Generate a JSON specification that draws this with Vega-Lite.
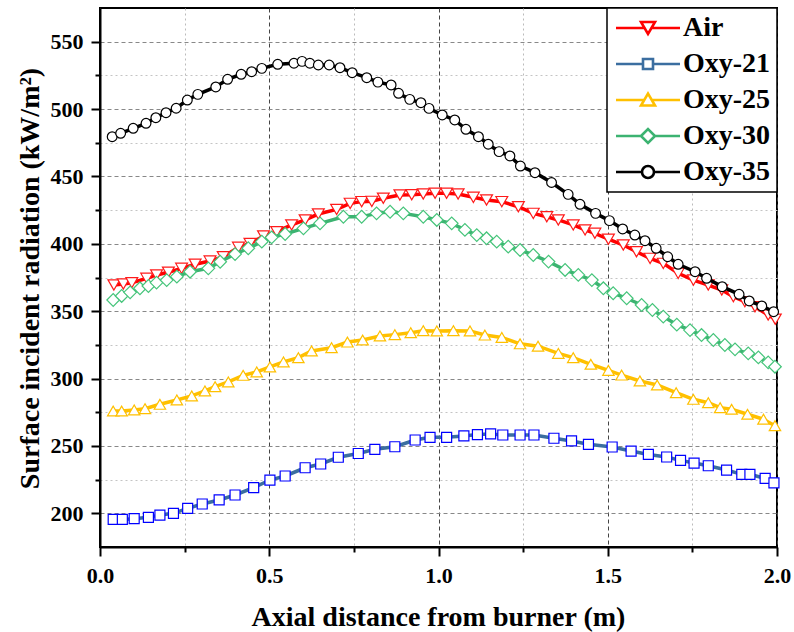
{
"$schema": "https://vega.github.io/schema/vega-lite/v6.json",
"width": 677, "height": 539,
"autosize": {"type": "none"},
"padding": {"left": 100, "top": 8, "right": 17, "bottom": 85},
"background": "white",
"config": {
 "view": {"stroke": "black", "strokeWidth": 2},
 "axis": {"labelFont": "Liberation Serif", "labelFontSize": 22, "labelFontWeight": "bold", "labelColor": "black", "titleFont": "Liberation Serif", "titleFontSize": 28, "titleFontWeight": "bold", "titleColor": "black", "domainColor": "black", "domainWidth": 2, "tickColor": "black", "tickWidth": 2, "labelPadding": 8, "gridWidth": 1, "labelFlush": false},
 "legend": {"title": null, "orient": "top-right", "offset": 0, "padding": 6, "fillColor": "white", "strokeColor": "black", "strokeWidth": 1.5, "symbolSize": 400, "symbolOffset": 21, "symbolStrokeWidth": 2.6, "symbolOpacity": 1, "labelFont": "Liberation Serif", "labelFontSize": 28, "labelFontWeight": "bold", "labelColor": "black", "labelOffset": 21, "labelLimit": 300, "rowPadding": 8}
},
"data": {"values": [
{"series":"Air","x":0.041,"y":369.4},{"series":"Air","x":0.069,"y":370.2},{"series":"Air","x":0.094,"y":371.1},{"series":"Air","x":0.138,"y":374.4},{"series":"Air","x":0.167,"y":376.9},{"series":"Air","x":0.202,"y":378.9},{"series":"Air","x":0.241,"y":381.8},{"series":"Air","x":0.281,"y":384.8},{"series":"Air","x":0.325,"y":387.2},{"series":"Air","x":0.364,"y":390.4},{"series":"Air","x":0.409,"y":397.4},{"series":"Air","x":0.443,"y":400.3},{"series":"Air","x":0.483,"y":405.8},{"series":"Air","x":0.522,"y":409},{"series":"Air","x":0.566,"y":414},{"series":"Air","x":0.606,"y":417.7},{"series":"Air","x":0.645,"y":422.1},{"series":"Air","x":0.699,"y":425.5},{"series":"Air","x":0.739,"y":430},{"series":"Air","x":0.773,"y":431.3},{"series":"Air","x":0.803,"y":431.5},{"series":"Air","x":0.837,"y":433.8},{"series":"Air","x":0.886,"y":436.2},{"series":"Air","x":0.921,"y":436.4},{"series":"Air","x":0.955,"y":437},{"series":"Air","x":0.99,"y":437.5},{"series":"Air","x":1.024,"y":437.5},{"series":"Air","x":1.058,"y":437},{"series":"Air","x":1.103,"y":434.5},{"series":"Air","x":1.142,"y":432.5},{"series":"Air","x":1.187,"y":431.3},{"series":"Air","x":1.236,"y":427.5},{"series":"Air","x":1.28,"y":422.6},{"series":"Air","x":1.32,"y":420.1},{"series":"Air","x":1.354,"y":417.7},{"series":"Air","x":1.398,"y":414},{"series":"Air","x":1.433,"y":410.3},{"series":"Air","x":1.462,"y":407.8},{"series":"Air","x":1.502,"y":403.4},{"series":"Air","x":1.546,"y":399.1},{"series":"Air","x":1.585,"y":394.1},{"series":"Air","x":1.625,"y":389.2},{"series":"Air","x":1.664,"y":385.5},{"series":"Air","x":1.708,"y":378.1},{"series":"Air","x":1.753,"y":373.1},{"series":"Air","x":1.797,"y":369.4},{"series":"Air","x":1.837,"y":365.7},{"series":"Air","x":1.871,"y":360.8},{"series":"Air","x":1.905,"y":357.1},{"series":"Air","x":1.935,"y":353.3},{"series":"Air","x":1.974,"y":347.2},{"series":"Air","x":1.995,"y":344},
{"series":"Oxy-21","x":0.039,"y":195.5},{"series":"Oxy-21","x":0.066,"y":195.5},{"series":"Oxy-21","x":0.101,"y":196},{"series":"Oxy-21","x":0.143,"y":197},{"series":"Oxy-21","x":0.177,"y":198.7},{"series":"Oxy-21","x":0.217,"y":200},{"series":"Oxy-21","x":0.259,"y":203.7},{"series":"Oxy-21","x":0.302,"y":206.9},{"series":"Oxy-21","x":0.352,"y":209.9},{"series":"Oxy-21","x":0.399,"y":213.6},{"series":"Oxy-21","x":0.454,"y":219},{"series":"Oxy-21","x":0.502,"y":224.7},{"series":"Oxy-21","x":0.547,"y":227.7},{"series":"Oxy-21","x":0.606,"y":233.8},{"series":"Oxy-21","x":0.652,"y":236.6},{"series":"Oxy-21","x":0.704,"y":241.6},{"series":"Oxy-21","x":0.763,"y":244.4},{"series":"Oxy-21","x":0.812,"y":247.5},{"series":"Oxy-21","x":0.871,"y":249.4},{"series":"Oxy-21","x":0.931,"y":254.4},{"series":"Oxy-21","x":0.975,"y":256.4},{"series":"Oxy-21","x":1.024,"y":256.4},{"series":"Oxy-21","x":1.075,"y":257.4},{"series":"Oxy-21","x":1.115,"y":258.4},{"series":"Oxy-21","x":1.154,"y":258.9},{"series":"Oxy-21","x":1.19,"y":258.1},{"series":"Oxy-21","x":1.241,"y":258.1},{"series":"Oxy-21","x":1.282,"y":258.1},{"series":"Oxy-21","x":1.341,"y":255.7},{"series":"Oxy-21","x":1.393,"y":253.7},{"series":"Oxy-21","x":1.443,"y":251.2},{"series":"Oxy-21","x":1.513,"y":249.2},{"series":"Oxy-21","x":1.569,"y":246.2},{"series":"Oxy-21","x":1.62,"y":243.7},{"series":"Oxy-21","x":1.674,"y":241.8},{"series":"Oxy-21","x":1.715,"y":239.3},{"series":"Oxy-21","x":1.755,"y":237.3},{"series":"Oxy-21","x":1.797,"y":235.3},{"series":"Oxy-21","x":1.851,"y":232.1},{"series":"Oxy-21","x":1.896,"y":228.9},{"series":"Oxy-21","x":1.92,"y":228.9},{"series":"Oxy-21","x":1.965,"y":225.9},{"series":"Oxy-21","x":1.991,"y":222.6},
{"series":"Oxy-25","x":0.039,"y":275.9},{"series":"Oxy-25","x":0.064,"y":275.9},{"series":"Oxy-25","x":0.101,"y":276.7},{"series":"Oxy-25","x":0.133,"y":277.6},{"series":"Oxy-25","x":0.177,"y":280.9},{"series":"Oxy-25","x":0.227,"y":284.1},{"series":"Oxy-25","x":0.271,"y":287.1},{"series":"Oxy-25","x":0.31,"y":290.8},{"series":"Oxy-25","x":0.34,"y":294},{"series":"Oxy-25","x":0.379,"y":297.5},{"series":"Oxy-25","x":0.423,"y":302.4},{"series":"Oxy-25","x":0.463,"y":304.9},{"series":"Oxy-25","x":0.502,"y":308.6},{"series":"Oxy-25","x":0.542,"y":312.3},{"series":"Oxy-25","x":0.586,"y":315.5},{"series":"Oxy-25","x":0.625,"y":320.5},{"series":"Oxy-25","x":0.684,"y":322.9},{"series":"Oxy-25","x":0.731,"y":327.1},{"series":"Oxy-25","x":0.776,"y":328.6},{"series":"Oxy-25","x":0.827,"y":331.6},{"series":"Oxy-25","x":0.871,"y":332.6},{"series":"Oxy-25","x":0.918,"y":334},{"series":"Oxy-25","x":0.955,"y":335.5},{"series":"Oxy-25","x":0.995,"y":335.3},{"series":"Oxy-25","x":1.044,"y":335.5},{"series":"Oxy-25","x":1.093,"y":335.3},{"series":"Oxy-25","x":1.137,"y":332.3},{"series":"Oxy-25","x":1.187,"y":330.5},{"series":"Oxy-25","x":1.241,"y":325.8},{"series":"Oxy-25","x":1.294,"y":324},{"series":"Oxy-25","x":1.354,"y":318.7},{"series":"Oxy-25","x":1.398,"y":315.5},{"series":"Oxy-25","x":1.45,"y":310.6},{"series":"Oxy-25","x":1.502,"y":306.1},{"series":"Oxy-25","x":1.541,"y":302.6},{"series":"Oxy-25","x":1.595,"y":298.2},{"series":"Oxy-25","x":1.646,"y":295.2},{"series":"Oxy-25","x":1.702,"y":289.5},{"series":"Oxy-25","x":1.753,"y":284.6},{"series":"Oxy-25","x":1.797,"y":282.1},{"series":"Oxy-25","x":1.832,"y":278.4},{"series":"Oxy-25","x":1.866,"y":277.2},{"series":"Oxy-25","x":1.913,"y":273.5},{"series":"Oxy-25","x":1.96,"y":269.8},{"series":"Oxy-25","x":1.994,"y":265},
{"series":"Oxy-30","x":0.039,"y":358.3},{"series":"Oxy-30","x":0.064,"y":361.3},{"series":"Oxy-30","x":0.089,"y":364},{"series":"Oxy-30","x":0.118,"y":367},{"series":"Oxy-30","x":0.143,"y":368.7},{"series":"Oxy-30","x":0.167,"y":371.2},{"series":"Oxy-30","x":0.197,"y":373.1},{"series":"Oxy-30","x":0.227,"y":375.6},{"series":"Oxy-30","x":0.266,"y":379.3},{"series":"Oxy-30","x":0.32,"y":381.8},{"series":"Oxy-30","x":0.355,"y":386.7},{"series":"Oxy-30","x":0.399,"y":392.4},{"series":"Oxy-30","x":0.438,"y":396.7},{"series":"Oxy-30","x":0.478,"y":401.6},{"series":"Oxy-30","x":0.507,"y":404.8},{"series":"Oxy-30","x":0.547,"y":407.3},{"series":"Oxy-30","x":0.601,"y":411.5},{"series":"Oxy-30","x":0.65,"y":415.2},{"series":"Oxy-30","x":0.719,"y":420.1},{"series":"Oxy-30","x":0.773,"y":420.1},{"series":"Oxy-30","x":0.817,"y":422.6},{"series":"Oxy-30","x":0.857,"y":423.8},{"series":"Oxy-30","x":0.896,"y":422.6},{"series":"Oxy-30","x":0.955,"y":420.1},{"series":"Oxy-30","x":0.995,"y":417.7},{"series":"Oxy-30","x":1.039,"y":415.2},{"series":"Oxy-30","x":1.078,"y":410.3},{"series":"Oxy-30","x":1.113,"y":406.5},{"series":"Oxy-30","x":1.142,"y":404.1},{"series":"Oxy-30","x":1.172,"y":401.6},{"series":"Oxy-30","x":1.206,"y":397.9},{"series":"Oxy-30","x":1.241,"y":395.4},{"series":"Oxy-30","x":1.28,"y":391.7},{"series":"Oxy-30","x":1.325,"y":386.8},{"series":"Oxy-30","x":1.374,"y":380.6},{"series":"Oxy-30","x":1.413,"y":376.9},{"series":"Oxy-30","x":1.453,"y":373.1},{"series":"Oxy-30","x":1.487,"y":367},{"series":"Oxy-30","x":1.516,"y":363.3},{"series":"Oxy-30","x":1.556,"y":359.6},{"series":"Oxy-30","x":1.6,"y":354.6},{"series":"Oxy-30","x":1.632,"y":350.9},{"series":"Oxy-30","x":1.664,"y":346},{"series":"Oxy-30","x":1.704,"y":340},{"series":"Oxy-30","x":1.743,"y":336},{"series":"Oxy-30","x":1.777,"y":332.3},{"series":"Oxy-30","x":1.812,"y":328.6},{"series":"Oxy-30","x":1.846,"y":324.9},{"series":"Oxy-30","x":1.876,"y":321.7},{"series":"Oxy-30","x":1.915,"y":318.7},{"series":"Oxy-30","x":1.945,"y":315.7},{"series":"Oxy-30","x":1.974,"y":312},{"series":"Oxy-30","x":1.994,"y":308.8},
{"series":"Oxy-35","x":0.036,"y":479.5},{"series":"Oxy-35","x":0.061,"y":482},{"series":"Oxy-35","x":0.098,"y":485.7},{"series":"Oxy-35","x":0.136,"y":489.4},{"series":"Oxy-35","x":0.165,"y":493.6},{"series":"Oxy-35","x":0.195,"y":497.3},{"series":"Oxy-35","x":0.225,"y":500.6},{"series":"Oxy-35","x":0.258,"y":506.7},{"series":"Oxy-35","x":0.289,"y":510.9},{"series":"Oxy-35","x":0.342,"y":516.4},{"series":"Oxy-35","x":0.377,"y":522.1},{"series":"Oxy-35","x":0.417,"y":525.8},{"series":"Oxy-35","x":0.448,"y":527.7},{"series":"Oxy-35","x":0.478,"y":530.2},{"series":"Oxy-35","x":0.525,"y":533.2},{"series":"Oxy-35","x":0.573,"y":534},{"series":"Oxy-35","x":0.597,"y":535.4},{"series":"Oxy-35","x":0.62,"y":534},{"series":"Oxy-35","x":0.645,"y":532.7},{"series":"Oxy-35","x":0.677,"y":532.7},{"series":"Oxy-35","x":0.709,"y":530.7},{"series":"Oxy-35","x":0.745,"y":527},{"series":"Oxy-35","x":0.788,"y":523.3},{"series":"Oxy-35","x":0.821,"y":520},{"series":"Oxy-35","x":0.86,"y":517.9},{"series":"Oxy-35","x":0.882,"y":511.7},{"series":"Oxy-35","x":0.915,"y":507.2},{"series":"Oxy-35","x":0.948,"y":504.7},{"series":"Oxy-35","x":0.972,"y":500.5},{"series":"Oxy-35","x":1.011,"y":495.6},{"series":"Oxy-35","x":1.048,"y":491.9},{"series":"Oxy-35","x":1.081,"y":485},{"series":"Oxy-35","x":1.118,"y":479.5},{"series":"Oxy-35","x":1.147,"y":473.9},{"series":"Oxy-35","x":1.179,"y":468.4},{"series":"Oxy-35","x":1.211,"y":465.2},{"series":"Oxy-35","x":1.242,"y":457.7},{"series":"Oxy-35","x":1.285,"y":452.8},{"series":"Oxy-35","x":1.334,"y":445.5},{"series":"Oxy-35","x":1.383,"y":436.7},{"series":"Oxy-35","x":1.418,"y":429.3},{"series":"Oxy-35","x":1.464,"y":422.6},{"series":"Oxy-35","x":1.505,"y":417.2},{"series":"Oxy-35","x":1.544,"y":411},{"series":"Oxy-35","x":1.58,"y":406.5},{"series":"Oxy-35","x":1.61,"y":402.3},{"series":"Oxy-35","x":1.643,"y":396.7},{"series":"Oxy-35","x":1.677,"y":390.4},{"series":"Oxy-35","x":1.708,"y":384.8},{"series":"Oxy-35","x":1.758,"y":379.3},{"series":"Oxy-35","x":1.792,"y":374.4},{"series":"Oxy-35","x":1.838,"y":368.2},{"series":"Oxy-35","x":1.888,"y":362.5},{"series":"Oxy-35","x":1.918,"y":357.6},{"series":"Oxy-35","x":1.955,"y":353.9},{"series":"Oxy-35","x":1.99,"y":349.6}
]},
"encoding": {
 "x": {"field": "x", "type": "quantitative", "scale": {"domain": [0, 2], "nice": false, "zero": false},
  "axis": {"title": "Axial distance from burner (m)", "values": [0,0.25,0.5,0.75,1,1.25,1.5,1.75,2],
   "labelExpr": "datum.value % 0.5 === 0 ? format(datum.value, '.1f') : ''",
   "grid": true,
   "gridColor": {"condition": {"test": "datum.value % 0.5 === 0", "value": "#444444"}, "value": "#bbbbbb"},
   "gridDash": {"condition": {"test": "datum.value % 0.5 === 0", "value": [4, 3]}, "value": [2, 3]},
   "tickSize": {"condition": {"test": "datum.value % 0.5 === 0", "value": 9}, "value": 5},
   "labelPadding": 9,
   "titleX": 338, "titleY": 78, "titleBaseline": "alphabetic", "titleAnchor": "middle", "titleAlign": "center"}},
 "y": {"field": "y", "type": "quantitative", "scale": {"domain": [175, 575], "nice": false, "zero": false},
  "axis": {"title": "Surface incident radiation (kW/m²)", "values": [200,225,250,275,300,325,350,375,400,425,450,475,500,525,550],
   "labelExpr": "datum.value % 50 === 0 ? datum.value : ''",
   "grid": true,
   "gridColor": {"condition": {"test": "datum.value % 50 === 0", "value": "#888888"}, "value": "#c4c4c4"},
   "gridDash": {"condition": {"test": "datum.value % 50 === 0", "value": [4, 3]}, "value": [2, 3]},
   "tickSize": {"condition": {"test": "datum.value % 50 === 0", "value": 9}, "value": 5},
   "labelPadding": 8,
   "titleX": -62, "titleY": 270, "titleAngle": -90, "titleBaseline": "alphabetic", "titleAlign": "center"}}
},
"layer": [
 {"transform": [{"filter": "datum.series === 'Air'"}], "mark": {"type": "line", "color": "#FF0000", "strokeWidth": 3.5}, "encoding": {}},
 {"transform": [{"filter": "datum.series === 'Air'"}], "mark": {"type": "point", "shape": "triangle-down", "size": 140, "filled": false, "fill": "white", "stroke": "#FF1a1a", "strokeWidth": 1.2, "opacity": 1}, "encoding": {}},
 {"transform": [{"filter": "datum.series === 'Oxy-21'"}], "mark": {"type": "line", "color": "#3B6EA0", "strokeWidth": 3.5}, "encoding": {}},
 {"transform": [{"filter": "datum.series === 'Oxy-21'"}], "mark": {"type": "point", "shape": "square", "size": 100, "filled": false, "fill": "white", "stroke": "#0000FF", "strokeWidth": 1.2, "opacity": 1}, "encoding": {}},
 {"transform": [{"filter": "datum.series === 'Oxy-25'"}], "mark": {"type": "line", "color": "#FFC000", "strokeWidth": 3.5}, "encoding": {}},
 {"transform": [{"filter": "datum.series === 'Oxy-25'"}], "mark": {"type": "point", "shape": "triangle-up", "size": 130, "filled": false, "fill": "white", "stroke": "#FFC000", "strokeWidth": 1.2, "opacity": 1}, "encoding": {}},
 {"transform": [{"filter": "datum.series === 'Oxy-30'"}], "mark": {"type": "line", "color": "#3CB371", "strokeWidth": 3.5}, "encoding": {}},
 {"transform": [{"filter": "datum.series === 'Oxy-30'"}], "mark": {"type": "point", "shape": "diamond", "size": 160, "filled": false, "fill": "white", "stroke": "#45C47A", "strokeWidth": 1.2, "opacity": 1}, "encoding": {}},
 {"transform": [{"filter": "datum.series === 'Oxy-35'"}], "mark": {"type": "line", "color": "#000000", "strokeWidth": 3.5}, "encoding": {}},
 {"transform": [{"filter": "datum.series === 'Oxy-35'"}], "mark": {"type": "point", "shape": "circle", "size": 95, "filled": false, "fill": "white", "stroke": "#000000", "strokeWidth": 1.2, "opacity": 1}, "encoding": {}},
 {"mark": {"type": "point", "filled": false, "fill": "white", "opacity": 0},
  "encoding": {
   "stroke": {"field": "series", "type": "nominal", "scale": {"domain": ["Air","Oxy-21","Oxy-25","Oxy-30","Oxy-35"], "range": ["#FF0000","#3B6EA0","#FFC000","#3CB371","#000000"]}, "legend": {}},
   "shape": {"field": "series", "type": "nominal", "scale": {"domain": ["Air","Oxy-21","Oxy-25","Oxy-30","Oxy-35"], "range": [
     "M-3.2,0H-0.38M0.38,0H3.2M-0.7,-0.6H0.7L0,0.6Z",
     "M-3.2,0H-0.5M0.5,0H3.2M-0.5,-0.5H0.5V0.5H-0.5Z",
     "M-3.2,0H-0.38M0.38,0H3.2M-0.7,0.55H0.7L0,-0.65Z",
     "M-3.2,0H-0.7M0.7,0H3.2M-0.7,0L0,-0.7L0.7,0L0,0.7Z",
     "M-3.2,0H-0.6M0.6,0H3.2M-0.6,0A0.6,0.6,0,1,1,0.6,0A0.6,0.6,0,1,1,-0.6,0Z"]}, "legend": {}}
  }}
]
}
